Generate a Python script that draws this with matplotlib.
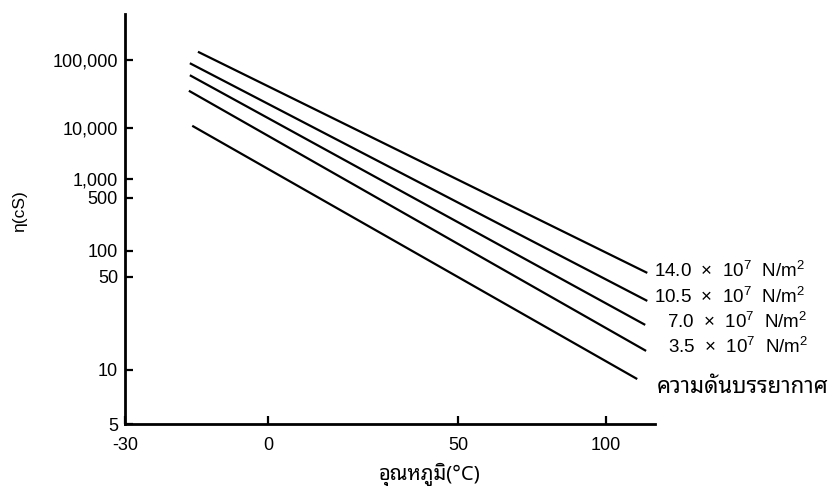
import numpy as np
import matplotlib
matplotlib.use("Agg")
import matplotlib.pyplot as plt
from matplotlib import font_manager
from matplotlib.ft2font import FT2Font

# ---------------- data ----------------
series_labels = [r"14.0  ×  10$^{7}$  N/m$^{2}$",
                 r"10.5  ×  10$^{7}$  N/m$^{2}$",
                 r"7.0  ×  10$^{7}$  N/m$^{2}$",
                 r"3.5  ×  10$^{7}$  N/m$^{2}$",
                 "ความดันบรรยากาศ"]
temp_start = [-14.7, -16.4, -16.4, -16.6, -15.9]     # °C
temp_end = [113.9, 113.9, 113.2, 113.5, 110.5]       # °C
visc_start = [131000, 88900, 59200, 35000, 10700]    # cS
visc_end = [55.6, 33.0, 21.8, 13.9, 8.9]             # cS

x_ticks = [-30, 0, 50, 100]
x_tick_labels = ["-30", "0", "50", "100"]
y_ticks = [5, 10, 50, 100, 500, 1000, 10000, 100000]
y_tick_labels = ["5", "10", "50", "100", "500", "1,000", "10,000", "100,000"]

# spacing of the printed (non-uniform) chart grid
x_knot_pos = [0, 143, 333, 481]
y_knot_pos = [0, 54, 147, 173, 226, 245, 296, 364]

# ---------------- fonts ----------------
def thai_family():
    prefs = ["Noto Sans Thai Looped", "Sarabun", "Noto Sans Thai", "Tahoma",
             "Loma", "Garuda", "Kinnari"]
    found = set()
    for f in font_manager.fontManager.ttflist:
        try:
            cm = FT2Font(f.fname).get_charmap()
            if 0x0E01 in cm and 0x0E04 in cm:
                found.add(f.name)
        except Exception:
            pass
    for p in prefs:
        if p in found:
            return p
    return sorted(found)[0] if found else "DejaVu Sans"

THAI = thai_family()
plt.rcParams["font.family"] = ["Liberation Sans", "DejaVu Sans"]
plt.rcParams["mathtext.fontset"] = "custom"
plt.rcParams["mathtext.rm"] = "Liberation Sans"
plt.rcParams["mathtext.it"] = "Liberation Sans:italic"
plt.rcParams["mathtext.bf"] = "Liberation Sans:bold"

# ---------------- piecewise scales ----------------
def pw(x, xs, ys):
    x = np.asarray(x, dtype=float)
    xs = np.asarray(xs, dtype=float)
    ys = np.asarray(ys, dtype=float)
    y = np.interp(x, xs, ys)
    lo_s = (ys[1] - ys[0]) / (xs[1] - xs[0])
    hi_s = (ys[-1] - ys[-2]) / (xs[-1] - xs[-2])
    y = np.where(x < xs[0], ys[0] + (x - xs[0]) * lo_s, y)
    y = np.where(x > xs[-1], ys[-1] + (x - xs[-1]) * hi_s, y)
    return y

y_log_knots = np.log10(y_ticks)

def x_fwd(v):
    return pw(v, x_ticks, x_knot_pos)

def x_inv(p):
    return pw(p, x_knot_pos, x_ticks)

def y_fwd(v):
    v = np.maximum(np.asarray(v, dtype=float), 1e-12)
    return pw(np.log10(v), y_log_knots, y_knot_pos)

def y_inv(p):
    return 10 ** pw(p, y_knot_pos, y_log_knots)

# ---------------- figure ----------------
fig = plt.figure(figsize=(8.37, 4.86), dpi=100)
fig.patch.set_facecolor("white")
ax = fig.add_axes([125 / 837, 62 / 486, 530 / 837, 410 / 486])
ax.set_xscale("function", functions=(x_fwd, x_inv))
ax.set_yscale("function", functions=(y_fwd, y_inv))

for ts, te, vs, ve in zip(temp_start, temp_end, visc_start, visc_end):
    ax.plot([ts, te], [vs, ve], color="black", lw=1.6, solid_capstyle="butt")

ax.set_xlim(-30, 116.5)
ax.set_ylim(5, 4.7e5)

ax.set_xticks(x_ticks)
ax.set_xticklabels(x_tick_labels)
ax.set_yticks(y_ticks)
ax.set_yticklabels(y_tick_labels)
ax.minorticks_off()
ax.tick_params(axis="both", direction="in", length=6, width=1.6,
               labelsize=13, colors="black")
ax.tick_params(axis="y", pad=5)
ax.tick_params(axis="x", pad=9)

for s in ["top", "right"]:
    ax.spines[s].set_visible(False)
for s in ["left", "bottom"]:
    ax.spines[s].set_linewidth(2.0)
    ax.spines[s].set_color("black")

# labels at the line ends
offsets = [(7, 2), (7, 4), (22, 3), (22, 4), (20, -8)]
for i, (lab, te, ve, off) in enumerate(zip(series_labels, temp_end, visc_end, offsets)):
    if i == 4:
        fam, fs = [THAI, "Liberation Sans"], 16
    else:
        fam, fs = ["Liberation Sans", "DejaVu Sans"], 13.5
    ax.annotate(lab, xy=(te, ve), xytext=off, textcoords="offset pixels",
                ha="left", va="center", fontsize=fs, family=fam,
                annotation_clip=False)

fig.text(20 / 837, 1 - 211 / 486, "η(cS)", rotation=90, ha="center",
         va="center", fontsize=12.5)
fig.text(430 / 837, 1 - 475 / 486, "อุณหภูมิ(°C)", ha="center", va="center",
         fontsize=14.5, family=[THAI, "Liberation Sans", "DejaVu Sans"])

fig.savefig("out.png", dpi=100, facecolor="white")
